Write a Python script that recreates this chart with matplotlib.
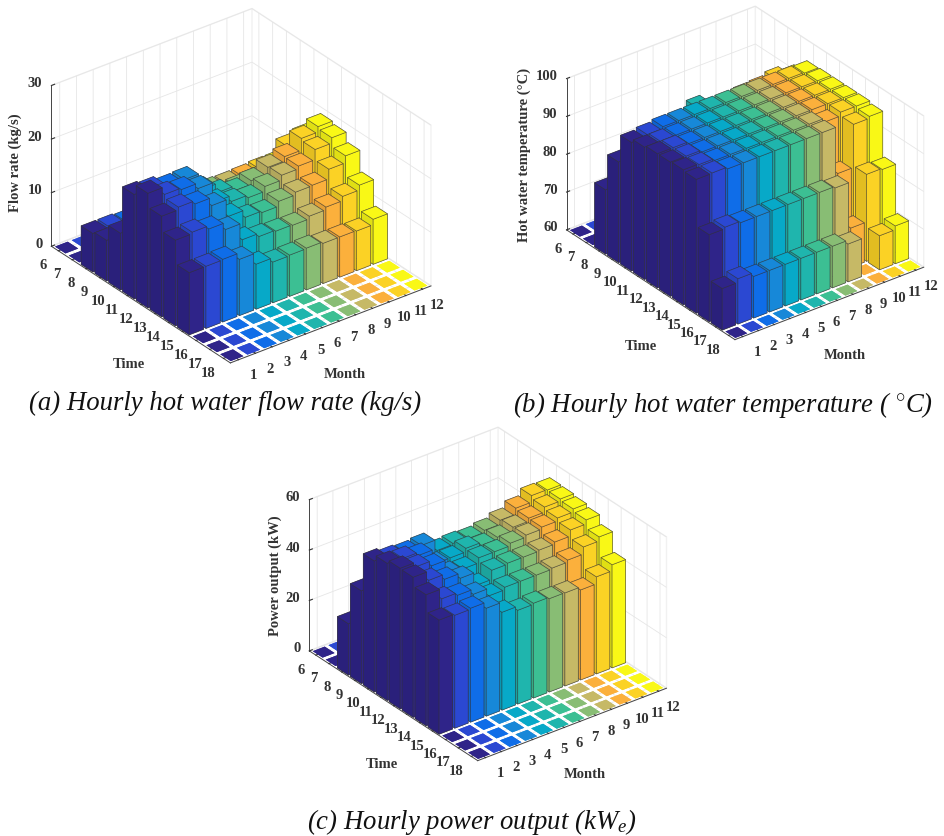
import matplotlib
matplotlib.use('Agg')
import matplotlib.pyplot as plt
from matplotlib.colors import to_rgb
from mpl_toolkits.mplot3d import proj3d
import numpy as np

plt.rcParams['font.family'] = ['Liberation Serif', 'DejaVu Serif']
plt.rcParams['mathtext.fontset'] = 'custom'
plt.rcParams['mathtext.rm'] = 'Liberation Serif:italic'
plt.rcParams['mathtext.it'] = 'Liberation Serif:italic'

months = [1, 2, 3, 4, 5, 6, 7, 8, 9, 10, 11, 12]
hours = [6, 7, 8, 9, 10, 11, 12, 13, 14, 15, 16, 17, 18]
month_colors = ['#2f2489', '#2b48d2', '#0f6de8', '#1788d8', '#07a9c8', '#1fb5ad',
                '#3cbf93', '#88bd74', '#c6b966', '#fbb03c', '#fbd225', '#f9f816']

# rows are hours 6..18, columns are months 1..12
flow_rate = [
    [0] * 12,
    [0] * 12,
    [7.2, 7.2, 7, 7, 7, 7, 7, 7, 6.9, 7, 7.2, 7.2],
    [7.6, 7.6, 7.6, 7.6, 7.6, 7.6, 7.6, 7.6, 7.6, 8, 8, 8.5],
    [10.6, 10.6, 10.6, 10.6, 10.6, 10.6, 10.6, 10.8, 11, 11, 14.8, 15.5],
    [19.5, 19.2, 18.6, 18.7, 15.6, 13.9, 13, 13.7, 15, 15.8, 18, 19],
    [21.4, 20, 19.7, 18.7, 15, 13.9, 13.4, 14.3, 15.2, 15.7, 17.6, 18.6],
    [18.8, 19.3, 18.7, 17.2, 14, 12.6, 12.3, 13.2, 13.7, 13.8, 15.6, 16.9],
    [16, 16.3, 15.7, 14.4, 11.3, 10.7, 10.5, 10.4, 10.9, 11.4, 12.2, 13.1],
    [11.6, 11.6, 11.7, 10.5, 8.4, 7.6, 7.7, 7.8, 7.5, 7.5, 7.4, 8.4],
    [0] * 12,
    [0] * 12,
    [0] * 12,
]
water_temp = [
    [60] * 12,
    [60] * 12,
    [77, 78, 80, 82, 84, 85, 85, 85, 85, 85, 85, 85],
    [86.6, 87, 88, 89, 90, 93, 90, 90.5, 91.6, 91.8, 92.6, 91.5],
    [94, 94.5, 95, 95, 95, 95, 95, 95, 95, 95, 95, 94.8],
    [95, 95, 95, 95, 95, 95, 95, 95, 95, 95, 95, 95],
    [95.5, 95.5, 95, 95, 95, 95, 95, 95, 95, 95, 95, 95],
    [95.5, 95.5, 95, 95, 95, 95, 95, 95, 95, 95, 95, 95],
    [95.7, 95.5, 95, 95, 95, 95, 95, 95, 95, 94, 95, 95],
    [95.4, 95.5, 95, 95, 95, 95, 95, 95, 95, 82.6, 94, 94.5],
    [83, 83.4, 83, 83, 83, 83, 83, 83, 82.6, 70.4, 83, 82.7],
    [71, 72, 71, 71, 71, 71, 71, 71, 70, 60, 69, 70],
    [60] * 12,
]
power = [
    [0] * 12,
    [0] * 12,
    [20.4, 21, 22, 24, 26, 27, 27, 27, 28, 28, 28, 28],
    [36.8, 37, 38, 38, 39, 39, 39, 40, 40, 41, 43, 43],
    [52, 51, 50.5, 51, 46.6, 47, 46.6, 47.4, 49, 51.4, 54, 53.8],
    [54.4, 54, 52.8, 47, 47, 48.4, 47.2, 48, 49.6, 50.8, 52.8, 53.6],
    [55.8, 54, 52, 46.6, 46, 48, 48, 49, 49.8, 50.6, 51.8, 53],
    [55.6, 52, 50, 48, 42.8, 46.4, 46.8, 46.8, 47.2, 48, 50.4, 52],
    [52, 48, 47, 45, 42, 43, 43, 43, 43.4, 44.2, 47, 48.6],
    [45.3, 44.8, 45.2, 42.8, 38.8, 37.2, 37.6, 37, 36.9, 35.7, 38.5, 40.9],
    [0] * 12,
    [0] * 12,
    [0] * 12,
]


def faces(color):
    # bar3d face order: -z, +z, -y, +y, -x, +x
    c = np.array(to_rgb(color))
    return [c, c, c * 0.97, c, c * 0.9, c]


def tick_text(ax, x, y, z, txt, dx, dy, ha='center'):
    # mplot3d resets tick label transforms, so labels are annotated at the projected tick
    px, py, _ = proj3d.proj_transform(x, y, z, ax.get_proj())
    ax.annotate(txt, (px, py), xytext=(dx, dy), textcoords='offset pixels', ha=ha, va='center',
                fontsize=10.5, fontweight='bold', color='#333333', annotation_clip=False)


def bars(rect, zoom, values, zmin, zmax, zticks, zlab, zlab_xy, time_xy, month_xy):
    ax = fig.add_axes(rect, projection='3d', computed_zorder=False)
    ax.set_proj_type('ortho')
    ax.view_init(elev=30, azim=-127.5)
    ax.set_box_aspect((252, 293, 185), zoom=zoom)
    ax.set_facecolor('none')
    n = 0
    # back to front so the boxes overlap correctly
    for i in range(len(hours)):
        for j in range(len(months) - 1, -1, -1):
            v = values[i][j]
            h = v - zmin
            # empty cells stay flat tiles with a white gap round them
            w = 0.85 if h > 0 else 0.76
            ax.bar3d(months[j] - w / 2, hours[i] - w / 2, zmin, w, w, h,
                     color=faces(month_colors[j]), shade=False,
                     edgecolor='#33333399' if h > 0 else 'none',
                     linewidth=0.5 if h > 0 else 0, zorder=n)
            n += 1
    ax.set_xlim(0.5, 12.5)
    ax.set_ylim(18.5, 5.5)
    ax.set_zlim(zmin, zmax)
    ax.set_xticks(months)
    ax.set_yticks(hours)
    ax.set_zticks(zticks)
    ax.set_xticklabels([])
    ax.set_yticklabels([])
    ax.set_zticklabels([])
    for axis in (ax.xaxis, ax.yaxis, ax.zaxis):
        axis.pane.set_facecolor('white')
        axis.pane.set_edgecolor('#e4e4e4')
        axis.line.set_color('#444444')
        axis.line.set_linewidth(0.7)
        axis._axinfo['grid'].update(color='#e6e6e6', linewidth=0.6)
        axis._axinfo['tick'].update(inward_factor=0.0, outward_factor=0.2)
    ax.tick_params(colors='#333333')
    for m in months:
        tick_text(ax, m, 18.5, zmin, str(m), 15, -15)
    for t in hours:
        tick_text(ax, 0.5, t, zmin, str(t), -15, -14)
    for z in zticks:
        tick_text(ax, 0.5, 5.5, z, str(z), -9, 3, ha='right')
    fig.text(zlab_xy[0] / W, 1 - zlab_xy[1] / H, zlab, rotation=90, ha='center', va='center',
             fontsize=10.5, fontweight='bold', color='#333333')
    fig.text(time_xy[0] / W, 1 - time_xy[1] / H, 'Time', ha='center', va='center',
             fontsize=10.5, fontweight='bold', color='#333333')
    fig.text(month_xy[0] / W, 1 - month_xy[1] / H, 'Month', ha='center', va='center',
             fontsize=10.5, fontweight='bold', color='#333333')
    return ax


W, H = 945, 837
fig = plt.figure(figsize=(W / 100, H / 100), dpi=100)

bars([0.0247, 0.5407, 0.45, 0.46], 1.084, flow_rate, 0, 30, [0, 10, 20, 30], 'Flow rate (kg/s)',
     (15, 163), (129, 364), (345, 375))
bars([0.5580, 0.556, 0.45, 0.46], 1.02, water_temp, 60, 100, [60, 70, 80, 90, 100], 'Hot water temperature (°C)',
     (524, 155), (641, 346), (845, 356))
bars([0.2858, 0.053, 0.45, 0.46], 1.02, power, 0, 60, [0, 20, 40, 60], 'Power output (kW)',
     (275, 576), (382, 765), (585, 775))

fig.text(225 / W, 1 - 403 / H, '(a) Hourly hot water flow rate (kg/s)', ha='center', va='center',
         fontsize=19.3, style='italic', color='#111111')
fig.text(723 / W, 1 - 405 / H, '(b) Hourly hot water temperature ( $^{\\circ}$C)', ha='center', va='center',
         fontsize=19.3, style='italic', color='#111111')
fig.text(472 / W, 1 - 822 / H, '(c) Hourly power output (kW$_e$)', ha='center', va='center',
         fontsize=19.3, style='italic', color='#111111')

fig.savefig('out.png', dpi=100)
